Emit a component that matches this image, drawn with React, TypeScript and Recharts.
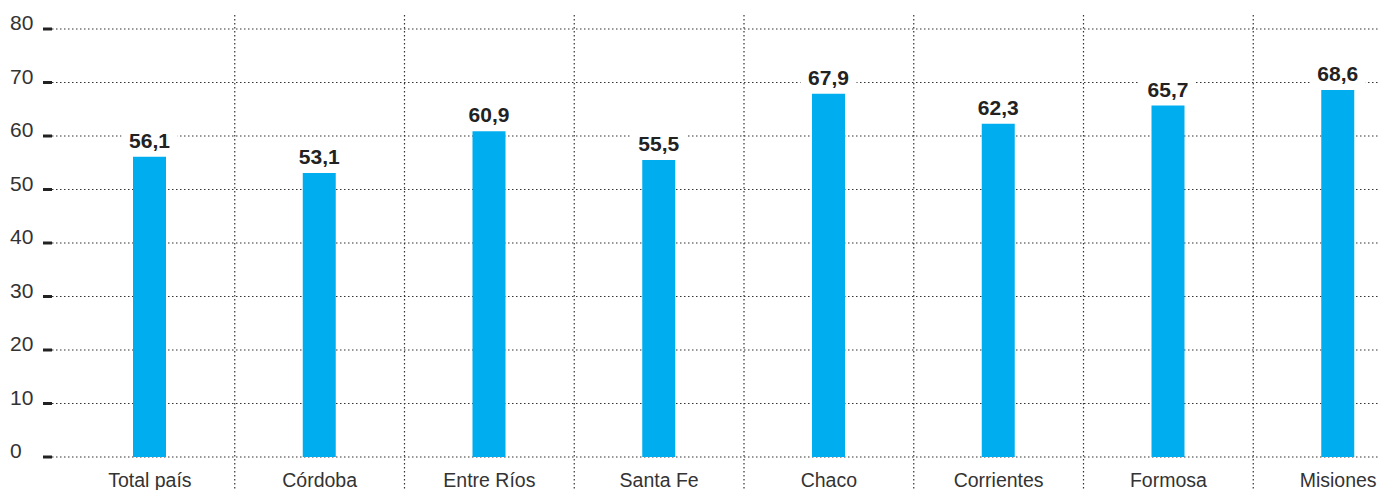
import { BarChart, Bar, XAxis, YAxis, CartesianGrid, LabelList } from 'recharts';

const categories = ['Total país', 'Córdoba', 'Entre Ríos', 'Santa Fe', 'Chaco', 'Corrientes', 'Formosa', 'Misiones'];
const values = [56.1, 53.1, 60.9, 55.5, 67.9, 62.3, 65.7, 68.6];
const yTicks = [0, 10, 20, 30, 40, 50, 60, 70, 80];

const data = categories.map((name, i) => ({ name, value: values[i] }));

const FONT = '"Liberation Sans", Arial, sans-serif';
const CHART_W = 1423;
const CHART_H = 490;
const STEP = (CHART_W - 52 - 13) / categories.length;

function YTick({ y, payload }: any) {
  return (
    <g>
      <text x={10} y={y + 1} fontSize={21} fill="#333" fontFamily={FONT}>
        {payload.value}
      </text>
      <line x1={43} x2={52} y1={y} y2={y} stroke="#222" strokeWidth={3} />
    </g>
  );
}

function XTick({ x, payload, index }: any) {
  return (
    <g>
      {index < categories.length - 1 && (
        <line
          x1={x + STEP / 2}
          x2={x + STEP / 2}
          y1={15}
          y2={CHART_H}
          stroke="#333"
          strokeWidth={1.2}
          strokeDasharray="1.5 2.5"
        />
      )}
      <text x={x} y={487} textAnchor="middle" fontSize={19.5} fill="#333" fontFamily={FONT}>
        {payload.value}
      </text>
    </g>
  );
}

function ValueLabel({ x, y, width, value }: any) {
  const cx = x + width / 2;
  const txt = String(value).replace('.', ',');
  return (
    <g>
      <rect x={cx - 28} y={y - 29} width={56} height={23} fill="#fff" />
      <text x={cx} y={y - 9} textAnchor="middle" fontSize={21} fontWeight="bold" fill="#222" fontFamily={FONT}>
        {txt}
      </text>
    </g>
  );
}

export default function App() {
  return (
    <div style={{ position: 'absolute', left: 0, top: 0, width: 1379, height: 490, overflow: 'hidden', background: '#fff' }}>
      <BarChart
        width={CHART_W}
        height={CHART_H}
        data={data}
        margin={{ top: 29, right: 0, bottom: 0, left: 0 }}
      >
        <CartesianGrid
          vertical={false}
          stroke="#333"
          strokeWidth={1.2}
          strokeDasharray="1.5 2.5"
        />
        <YAxis
          width={52}
          domain={[0, 80]}
          ticks={yTicks}
          axisLine={false}
          tickLine={false}
          tick={<YTick />}
          interval={0}
        />
        <XAxis
          dataKey="name"
          padding={{ left: 13, right: 0 }}
          axisLine={false}
          tickLine={false}
          tick={<XTick />}
          interval={0}
          height={33}
        />
        <Bar dataKey="value" fill="#00AEEF" barSize={33} isAnimationActive={false}>
          <LabelList dataKey="value" content={<ValueLabel />} />
        </Bar>
      </BarChart>
    </div>
  );
}
